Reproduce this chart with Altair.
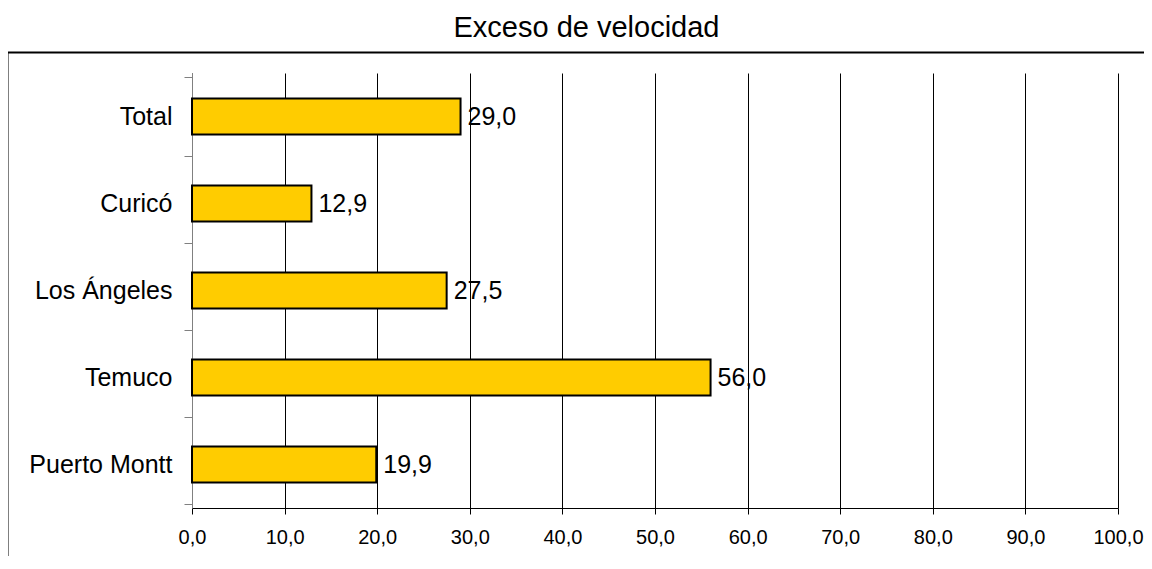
import altair as alt
import pandas as pd

title_text = "Exceso de velocidad"
categories = ["Total", "Curicó", "Los Ángeles", "Temuco", "Puerto Montt"]
values = [29.0, 12.9, 27.5, 56.0, 19.9]
x_ticks = [0, 10, 20, 30, 40, 50, 60, 70, 80, 90, 100]

df = pd.DataFrame({"cat": categories, "val": values})
df["lbl"] = [f"{v:.1f}".replace(".", ",") for v in values]

W, H = 926, 435

frame = alt.Chart(pd.DataFrame({"a": [0]})).mark_rect(
    fill=None, stroke="black", strokeWidth=2, clip=False
).encode(
    x=alt.value(-184.5), x2=alt.value(W + 60),
    y=alt.value(-20.5), y2=alt.value(H + 120),
)

title = alt.Chart(pd.DataFrame({"t": [title_text]})).mark_text(
    fontSize=29, font="Liberation Sans", color="black", align="center",
    baseline="alphabetic", clip=False
).encode(x=alt.value(394.5), y=alt.value(-36), text="t:N")

y_enc = alt.Y("cat:N", sort=categories, title=None,
              axis=alt.Axis(labelFontSize=25, labelColor="black", labelFont="Liberation Sans",
                            labelPadding=12, tickSize=8, tickColor="#808080", domainColor="#808080",
                            tickBand="extent", grid=False, labelLimit=300))
x_enc = alt.X("val:Q", title=None,
              scale=alt.Scale(domain=[0, 100], nice=False),
              axis=alt.Axis(values=x_ticks, labelExpr="replace(format(datum.value, '.1f'), '.', ',')",
                            labelFontSize=20, labelColor="black", labelFont="Liberation Sans",
                            labelPadding=13, tickSize=6, tickColor="black", domainColor="black",
                            labelFlush=False, labelOverlap=False,
                            grid=True, gridColor="black", gridOpacity=1, gridWidth=1))

bars = alt.Chart(df).mark_bar(size=36, color="#FFCC00", stroke="black", strokeWidth=2).encode(
    x=x_enc, y=y_enc)

text = alt.Chart(df).mark_text(align="left", baseline="middle", dx=7, fontSize=25,
                               font="Liberation Sans", color="black").encode(
    x="val:Q", y=alt.Y("cat:N", sort=categories), text="lbl:N")

chart = alt.layer(frame, title, bars, text).properties(
    width=W, height=H,
    autosize=alt.AutoSizeParams(type="none"),
    padding={"left": 184, "top": 65, "right": 26, "bottom": 48},
).configure_view(stroke=None)

chart.save("out.html", embed_options={"renderer": "svg", "actions": False})
